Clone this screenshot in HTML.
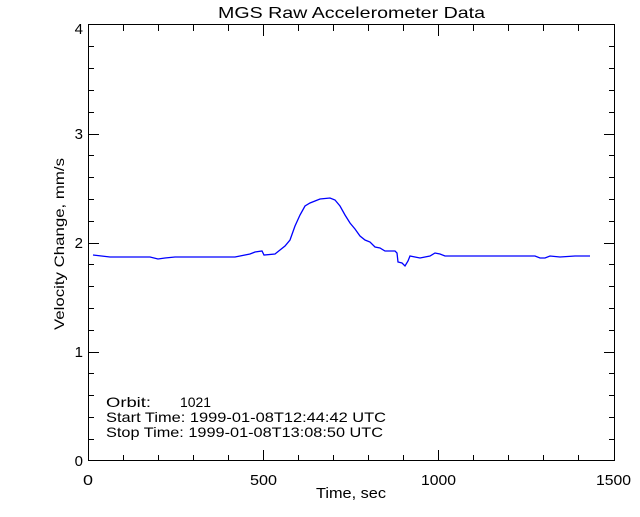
<!DOCTYPE html>
<html><head><style>body{margin:0;background:#fff}</style></head><body>
<svg width="640" height="512" xmlns="http://www.w3.org/2000/svg" font-family="Liberation Sans, sans-serif" font-size="13">
<rect width="640" height="512" fill="#fff"/>
<g stroke="#000" stroke-width="1" fill="none">
<rect x="88.5" y="24.5" width="526" height="436"/>
<path d="M123.5 461v-6M158.5 461v-6M193.5 461v-6M228.5 461v-6M263.5 461v-11M298.5 461v-6M333.5 461v-6M368.5 461v-6M403.5 461v-6M438.5 461v-11M473.5 461v-6M508.5 461v-6M543.5 461v-6M578.5 461v-6
M123.5 25v6M158.5 25v6M193.5 25v6M228.5 25v6M263.5 25v11M298.5 25v6M333.5 25v6M368.5 25v6M403.5 25v6M438.5 25v11M473.5 25v6M508.5 25v6M543.5 25v6M578.5 25v6"/>
<path d="M88 439.5h6M88 417.5h6M88 395.5h6M88 373.5h6M88 352.5h11M88 330.5h6M88 308.5h6M88 286.5h6M88 264.5h6M88 243.5h11M88 221.5h6M88 199.5h6M88 177.5h6M88 155.5h6M88 134.5h11M88 112.5h6M88 90.5h6M88 68.5h6M88 46.5h6
M615 439.5h-6M615 417.5h-6M615 395.5h-6M615 373.5h-6M615 352.5h-11M615 330.5h-6M615 308.5h-6M615 286.5h-6M615 264.5h-6M615 243.5h-11M615 221.5h-6M615 199.5h-6M615 177.5h-6M615 155.5h-6M615 134.5h-11M615 112.5h-6M615 90.5h-6M615 68.5h-6M615 46.5h-6"/>
</g>
<polyline fill="none" stroke="#0000ff" stroke-width="1.3" points="93,255 110,257 130,257 150,257 158,259 165,258 175,257 190,257 210,257 225,257 235,257 240,256 250,254 255,252 262,251 264,255 275,254 280,250 285,246 290,240 295,226 300,215 305,206 310,203 315,201 320,199 330,198 335,200 340,206 345,215 350,223 355,229 360,236 365,240 370,242 375,247 380,248 385,251 390,251 395,251 397,253 398,262 402,263 405,266 408,261 410,256 415,257 420,258 425,257 430,256 435,253 440,254 445,256 460,256 480,256 500,256 520,256 535,256 540,258 545,258 550,256 560,257 575,256 590,256"/>
<text x="218" y="18" textLength="267" lengthAdjust="spacingAndGlyphs" font-size="16">MGS Raw Accelerometer Data</text>
<g font-size="15">
<text x="83" y="485" textLength="10" lengthAdjust="spacingAndGlyphs">0</text>
<text x="250" y="485" textLength="27" lengthAdjust="spacingAndGlyphs">500</text>
<text x="421" y="485" textLength="35" lengthAdjust="spacingAndGlyphs">1000</text>
<text x="596" y="485" textLength="35" lengthAdjust="spacingAndGlyphs">1500</text>
<text x="316" y="498" textLength="70" lengthAdjust="spacingAndGlyphs">Time, sec</text>
</g>
<g text-anchor="end" font-size="15">
<text x="83" y="466">0</text><text x="83" y="357">1</text><text x="83" y="248">2</text><text x="83" y="139">3</text><text x="83" y="34">4</text>
</g>
<text transform="translate(64,330) rotate(-90)" font-size="14" textLength="172" lengthAdjust="spacingAndGlyphs">Velocity Change, mm/s</text>
<g font-size="14">
<text x="106" y="407" textLength="45" lengthAdjust="spacingAndGlyphs">Orbit:</text>
<text x="180" y="407" textLength="31" lengthAdjust="spacingAndGlyphs">1021</text>
<text x="106" y="422" textLength="280" lengthAdjust="spacingAndGlyphs">Start Time: 1999-01-08T12:44:42 UTC</text>
<text x="106" y="437" textLength="277" lengthAdjust="spacingAndGlyphs">Stop Time: 1999-01-08T13:08:50 UTC</text>
</g>
</svg>
</body></html>
